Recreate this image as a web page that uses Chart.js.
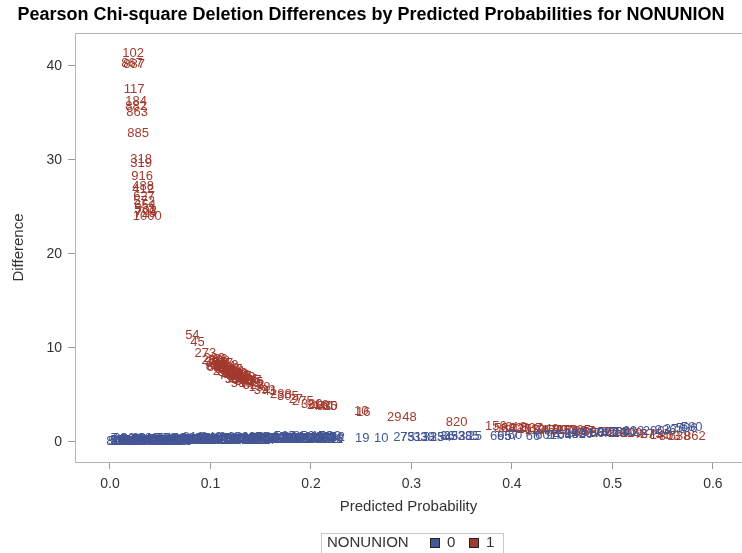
<!DOCTYPE html>
<html><head><meta charset="utf-8">
<script src="https://cdn.jsdelivr.net/npm/chart.js@4.4.1/dist/chart.umd.min.js"></script>
<style>html,body{margin:0;padding:0;background:#fff;}#wrap{width:742px;height:553px;}</style>
</head><body><div id="wrap"><canvas id="c" width="742" height="553"></canvas></div>
<script>
const TITLE = 'Pearson Chi-square Deletion Differences by Predicted Probabilities for NONUNION';
const X_TITLE = 'Predicted Probability';
const Y_TITLE = 'Difference';
const LEGEND_TITLE = 'NONUNION';
const groups = ['0', '1'];
const groupColors = ['#445694', '#A23A2E'];
const xTicks = [0, 0.1, 0.2, 0.3, 0.4, 0.5, 0.6];
const yTicks = [0, 10, 20, 30, 40];

// NONUNION = 0
const prob0 = [0.006,0.009,0.012,0.015,0.017,0.020,0.023,0.027,0.030,0.033,0.036,0.040,0.043,0.047,0.051,0.054,0.058,0.062,0.067,0.071,0.076,0.080,0.085,0.089,0.094,0.098,0.103,0.108,0.112,0.117,0.121,0.126,0.131,0.135,0.140,0.144,0.149,0.153,0.158,0.163,0.167,0.172,0.176,0.181,0.186,0.190,0.195,0.199,0.204,0.208,0.213,0.217,0.221,0.225,
  0.008,0.014,0.021,0.029,0.038,0.045,0.056,0.065,0.074,0.083,0.092,0.101,0.110,0.119,0.128,0.138,0.147,0.156,0.165,0.174,0.183,0.193,0.202,0.211,0.219,
  0.011,0.018,0.025,0.032,0.041,0.049,0.060,0.069,0.078,0.087,0.096,0.105,0.114,0.123,0.133,0.142,0.151,0.160,0.170,0.179,0.188,0.197,0.206,0.215,0.223,0.013,0.024,0.035,0.052,0.063,
  0.007,0.016,0.019,0.026,0.031,0.034,0.039,0.044,0.048,0.053,0.057,0.061,0.066,0.072,0.077,0.081,0.086,0.091,0.097,0.102,0.107,0.113,0.118,0.124,0.129,0.136,0.141,0.148,0.154,0.159,0.166,0.171,0.178,0.184,0.189,0.196,0.201,0.209,0.216,0.222,
  0.251,0.270,0.289,0.296,0.303,0.309,0.316,0.322,0.329,0.336,0.343,0.350,0.357,0.363,
  0.389,0.396,0.403,0.421,0.434,0.441,0.449,0.456,0.463,0.470,0.478,0.485,0.492,0.499,0.507,0.514,0.521,0.541,0.553,0.562,0.574,0.579];
const diff0 = [0.01,0.01,0.01,0.02,0.02,0.02,0.02,0.03,0.03,0.03,0.04,0.04,0.05,0.05,0.05,0.06,0.06,0.07,0.07,0.08,0.08,0.09,0.09,0.10,0.10,0.11,0.12,0.12,0.13,0.13,0.14,0.14,0.15,0.16,0.16,0.17,0.18,0.18,0.19,0.19,0.20,0.21,0.21,0.22,0.23,0.23,0.24,0.25,0.26,0.26,0.27,0.28,0.28,0.29,
  0.30,0.32,0.28,0.35,0.30,0.38,0.33,0.40,0.36,0.42,0.38,0.45,0.40,0.47,0.42,0.48,0.44,0.50,0.46,0.52,0.48,0.55,0.50,0.56,0.52,
  0.15,0.18,0.12,0.20,0.16,0.22,0.18,0.25,0.20,0.27,0.24,0.30,0.26,0.33,0.28,0.36,0.32,0.38,0.34,0.40,0.37,0.42,0.40,0.45,0.44,0.00,0.00,0.02,0.03,0.04,
  0.08,0.10,0.06,0.12,0.09,0.14,0.10,0.15,0.11,0.17,0.12,0.18,0.14,0.19,0.15,0.21,0.16,0.22,0.18,0.24,0.19,0.25,0.21,0.27,0.22,0.28,0.24,0.30,0.25,0.31,0.27,0.33,0.29,0.34,0.30,0.36,0.32,0.38,0.34,0.37,
  0.38,0.40,0.45,0.46,0.47,0.48,0.49,0.50,0.50,0.51,0.52,0.53,0.55,0.56,
  0.55,0.58,0.62,0.55,0.62,0.70,0.72,0.76,0.80,0.82,0.84,0.88,0.92,0.95,0.98,1.02,1.05,1.12,1.20,1.30,1.45,1.50];
const obs0 = ['71','503','218','662','39','457','810','126','344','905','67','281','590','733','14','402','876','155','619','308','47','790','231','564','88','695','372','141','829','256','513','977','60','438','701','185','352','924','77','609','263','848','530','112','396','771','205','684','33','458','917','322','746','91',
  '74','386','527','93','640','211','758','430','169','812','57','349','975','248','621','83','496','704','137','565','290','852','415','178','639',
  '502','683','157','921','346','718','265','883','409','132','576','947','313','760','228','654','399','871','520','106','738','461','295','807','342',
  '7','746','584','230','418',
  '808','272','649','105','388','911','463','726','58','834','197','552','670','319','985','241','486','123','757','604','380','893','166','521','440','707','289','958','135','612','374','849','223','567','901','146','682','417','79','530',
  '19','10','27','75','31','33','38','325','334','36','353','328','385','25',
  '695','657','60','66','601','94','704','613','852','400','517','86','742','355','204','291','633','290','236','276','596','580'];

// NONUNION = 1
const prob1 = [0.023,0.022,0.024,0.024,0.026,0.026,0.027,0.028,0.031,0.031,0.032,0.033,0.033,0.034,0.034,0.035,0.035,0.035,0.037,0.036,
  0.082,0.087,0.095,0.102,0.105,0.108,0.110,0.112,0.115,0.116,0.118,0.121,0.122,0.124,0.127,0.128,0.131,0.132,0.135,0.139,0.143,0.149,0.154,0.159,0.107,0.113,0.119,0.125,0.131,0.110,0.117,
  0.112,0.118,0.123,0.129,0.134,0.140,0.146,0.106,0.121,0.127,
  0.109,0.114,0.120,0.126,0.130,0.137,0.142,0.104,
  0.170,0.177,0.185,0.192,0.201,0.207,0.211,0.216,0.219,
  0.250,0.252,0.283,0.298,0.345,0.384,
  0.393,0.400,0.409,0.416,0.423,0.432,0.441,0.448,0.455,0.464,0.472,0.481,0.488,0.519,0.531,0.539,0.548,0.557,0.567,0.582,0.496,0.503,0.511,
  0.404,0.420,0.436,0.452,0.468];
const diff1 = [41.3,40.2,40.1,37.5,36.2,35.7,35.0,32.8,30.0,29.6,28.2,27.2,26.8,26.1,25.6,25.1,24.7,24.3,24.0,24.5,
  11.3,10.6,9.4,8.6,8.4,8.3,8.1,7.9,7.7,7.6,7.4,7.3,7.2,7.0,6.9,6.7,6.6,6.5,6.4,6.2,6.0,5.8,5.5,5.4,7.9,7.5,7.0,6.6,6.2,8.7,8.1,
  8.3,7.8,7.5,7.0,6.8,6.5,6.1,8.0,7.7,7.2,
  8.5,8.0,7.6,7.3,6.9,6.6,6.3,8.9,
  5.0,4.8,4.5,4.3,4.0,3.9,3.8,3.75,3.7,
  3.25,3.15,2.6,2.6,2.0,1.6,
  1.45,1.45,1.35,1.35,1.25,1.25,1.25,1.15,1.15,1.1,1.05,1.0,1.0,0.9,0.8,0.8,0.7,0.6,0.6,0.6,1.0,0.95,0.9,
  1.55,1.45,1.35,1.25,1.2];
const obs1 = ['102','867','887','117','184','882','863','885','318','319','916','488','412','627','572','654','531','728','1000','703',
  '54','45','273','230','361','812','95','403','598','741','329','188','602','455','871','214','566','690','377','149','523','138','393','41','620','245','780','336','509','66','912',
  '767','283','604','418','359','697','72','816','547','930',
  '208','664','391','853','127','476','715','289',
  '288','305','27','275','380','216','440','630','85',
  '10','16','29','48','820','156',
  '588','642','725','303','119','846','471','99','258','713','337','560','891','209','427','675','145','803','538','862','397','754','231',
  '612','537','248','790','365'];

const FONT = "'Liberation Sans', Arial, Helvetica, sans-serif";

const series = [
  {x: prob0, y: diff0, ids: obs0},
  {x: prob1, y: diff1, ids: obs1}
];

const labelPlugin = {
  id: 'obsLabels',
  afterDatasetsDraw(chart) {
    const {ctx, chartArea: a, scales: {x, y}} = chart;
    ctx.save();
    ctx.beginPath();
    ctx.rect(a.left, a.top, a.right - a.left, a.bottom - a.top);
    ctx.clip();
    ctx.font = '13px ' + FONT;
    ctx.textAlign = 'center';
    ctx.textBaseline = 'middle';
    [1, 0].forEach(g => {
      const ds = chart.data.datasets[g];
      ctx.fillStyle = groupColors[g];
      ds.data.forEach(pt => {
        ctx.fillText(pt.id, x.getPixelForValue(pt.x), y.getPixelForValue(pt.y));
      });
    });
    ctx.restore();
  }
};

const framePlugin = {
  id: 'frame',
  afterDraw(chart) {
    const {ctx, chartArea: a} = chart;
    ctx.save();
    ctx.strokeStyle = '#b4b4b4';
    ctx.lineWidth = 1;
    ctx.strokeRect(Math.round(a.left) + 0.5, Math.round(a.top) + 0.5, Math.round(a.right - a.left), Math.round(a.bottom - a.top));
    ctx.restore();
  }
};

const legendPlugin = {
  id: 'groupLegend',
  afterDraw(chart) {
    const ctx = chart.ctx;
    ctx.save();
    ctx.strokeStyle = '#c8c8c8';
    ctx.lineWidth = 1;
    ctx.strokeRect(321.5, 533.5, 182, 24);
    ctx.font = '15px ' + FONT;
    ctx.fillStyle = '#333';
    ctx.textBaseline = 'middle';
    ctx.textAlign = 'left';
    ctx.fillText(LEGEND_TITLE, 327, 543);
    const items = [{x: 430, t: 447}, {x: 469, t: 486}];
    groups.forEach((g, i) => {
      ctx.fillStyle = groupColors[i];
      ctx.fillRect(items[i].x, 538, 10, 10);
      ctx.strokeStyle = '#222';
      ctx.strokeRect(items[i].x + 0.5, 538.5, 9, 9);
      ctx.fillStyle = '#333';
      ctx.fillText(g, items[i].t, 543);
    });
    ctx.restore();
  }
};

const chart = new Chart(document.getElementById('c'), {
  type: 'scatter',
  data: {
    datasets: series.map((s, i) => ({
      label: groups[i],
      data: s.x.map((v, k) => ({x: v, y: s.y[k], id: s.ids[k]})),
      pointRadius: 0,
      pointHoverRadius: 0,
      backgroundColor: groupColors[i],
      borderColor: groupColors[i]
    }))
  },
  options: {
    responsive: false,
    devicePixelRatio: 1,
    animation: false,
    events: [],
    layout: {padding: {left: 0, right: 0, top: 0, bottom: 0}},
    plugins: {
      legend: {display: false},
      tooltip: {enabled: false},
      title: {
        display: true,
        text: TITLE,
        color: '#000',
        font: {family: FONT, size: 18, weight: 'bold', lineHeight: 1.2},
        padding: {top: 4, bottom: 7.4}
      }
    },
    scales: {
      x: {
        type: 'linear',
        min: -0.0348,
        max: 0.629,
        afterBuildTicks: s => { s.ticks = xTicks.map(v => ({value: v})); },
        afterFit: s => { s.height = 91; },
        grid: {drawOnChartArea: false, drawTicks: true, tickLength: 7, color: '#999', tickColor: '#999'},
        border: {display: true, color: '#b4b4b4'},
        ticks: {padding: 7, color: '#333', font: {family: FONT, size: 14}, maxRotation: 0, autoSkip: false,
          callback: v => Number(v).toFixed(1)},
        title: {display: true, text: X_TITLE, color: '#333', font: {family: FONT, size: 15}, padding: {top: 0, bottom: 37}}
      },
      y: {
        type: 'linear',
        min: -2.16,
        max: 43.48,
        afterBuildTicks: s => { s.ticks = yTicks.map(v => ({value: v})); },
        afterFit: s => { s.width = 75; },
        grid: {drawOnChartArea: false, drawTicks: true, tickLength: 7, color: '#999', tickColor: '#999'},
        border: {display: true, color: '#b4b4b4'},
        ticks: {padding: 6, color: '#333', font: {family: FONT, size: 14}, autoSkip: false,
          callback: v => String(v)},
        title: {display: true, text: Y_TITLE, color: '#333', font: {family: FONT, size: 15}, padding: {top: 10, bottom: 0}}
      }
    }
  },
  plugins: [labelPlugin, framePlugin, legendPlugin]
});
</script>
</body></html>
